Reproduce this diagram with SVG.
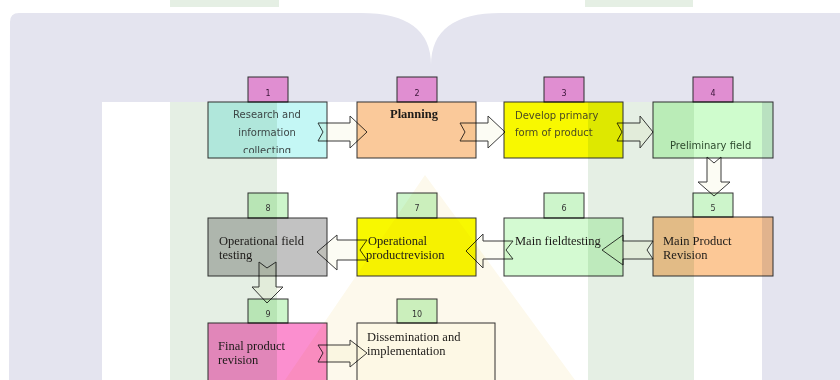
<svg xmlns="http://www.w3.org/2000/svg" width="840" height="380" viewBox="0 0 840 380">
<style>
.mb{mix-blend-mode:multiply}
.box{stroke:#333;stroke-width:1}
.tabp{fill:#fb9fdf;stroke:#333;stroke-width:1}
.tabg{fill:#cdf5cb;stroke:#333;stroke-width:1}
.num{font-family:"DejaVu Sans",sans-serif;font-size:8px;text-anchor:middle}
.sans{font-family:"DejaVu Sans",sans-serif;font-size:10px}
.ser{font-family:"Liberation Serif",serif;font-size:12.5px;fill:#1c1a18}
.arr{fill:#fcfcf4;stroke:#3a3a3a;stroke-width:1}
</style>
<defs>
<clipPath id="c1"><rect x="208" y="102" width="119" height="51"/></clipPath>
</defs>
<rect width="840" height="380" fill="#ffffff"/>
<g id="watermark">
<path d="M10,22 Q10,13 19,13 L361,13 Q431,13 431,65 Q431,13 501,13 L840,13 L840,380 L762,380 L762,102 L102,102 L102,380 L9,380 Z" fill="#e4e4ef"/>
<rect x="170" y="102" width="107" height="278" fill="#e5efe4"/>
<rect x="588" y="102" width="106" height="278" fill="#e5efe4"/>
<rect x="170" y="0" width="109" height="7" fill="#e5efe4"/>
<rect x="585" y="0" width="108" height="7" fill="#e5efe4"/>
<polygon points="425,175 285,380 575,380" fill="#fdf9ec"/>
</g>
<g id="node1">
<rect class="box mb" x="208" y="102" width="119" height="56" fill="#c4f7f5"/>
<rect class="tabp mb" x="248" y="77" width="40" height="25"/>
<text class="num" x="268" y="96" fill="#3a1438">1</text>
<g clip-path="url(#c1)" class="sans" fill="#3c4646" text-anchor="middle">
<text x="267" y="118">Research and</text>
<text x="267" y="136">information</text>
<text x="267" y="154">collecting</text>
</g>
</g>
<g id="node2">
<rect class="box mb" x="357" y="102" width="119" height="56" fill="#fac99a"/>
<rect class="tabp mb" x="397" y="77" width="40" height="25"/>
<text class="num" x="417" y="96" fill="#3a1438">2</text>
<text x="390" y="118" font-family="Liberation Serif, serif" font-weight="bold" font-size="12.5" fill="#1c1a18">Planning</text>
</g>
<g id="node3">
<rect class="box mb" x="504" y="102" width="119" height="56" fill="#f8f800"/>
<rect class="tabp mb" x="544" y="77" width="40" height="25"/>
<text class="num" x="564" y="96" fill="#3a1438">3</text>
<text class="sans" x="515" y="119" fill="#4a4a22">Develop primary</text>
<text class="sans" x="515" y="136" fill="#4a4a22">form of product</text>
</g>
<g id="node4">
<rect class="box mb" x="653" y="102" width="120" height="56" fill="#cffccd"/>
<rect class="tabp mb" x="693" y="77" width="40" height="25"/>
<text class="num" x="713" y="96" fill="#3a1438">4</text>
<text class="sans" x="670" y="149" fill="#2e4a2e">Preliminary field</text>
</g>
<g id="node5">
<rect class="box mb" x="653" y="217" width="120" height="59" fill="#fcc896"/>
<rect class="tabg mb" x="693" y="193" width="40" height="24"/>
<text class="num" x="713" y="211" fill="#333">5</text>
<text class="ser" x="663" y="245">Main Product</text>
<text class="ser" x="663" y="259">Revision</text>
</g>
<g id="node6">
<rect class="box mb" x="504" y="218" width="119" height="58" fill="#d4fad2"/>
<rect class="tabg mb" x="544" y="193" width="40" height="25"/>
<text class="num" x="564" y="211" fill="#333">6</text>
</g>
<g id="node7">
<rect class="box mb" x="357" y="218" width="119" height="58" fill="#f8f800"/>
<rect class="tabg mb" x="397" y="193" width="40" height="25"/>
<text class="num" x="417" y="211" fill="#333">7</text>
</g>
<g id="node8">
<rect class="box mb" x="208" y="218" width="119" height="58" fill="#c2c2c2"/>
<rect class="tabg mb" x="248" y="193" width="40" height="25"/>
<text class="num" x="268" y="211" fill="#333">8</text>
<text class="ser" x="219" y="245">Operational field</text>
<text class="ser" x="219" y="259">testing</text>
</g>
<g id="node9">
<rect class="box mb" x="208" y="323" width="119" height="70" fill="#fb8fcf"/>
<rect class="tabg mb" x="248" y="299" width="40" height="24"/>
<text class="num" x="268" y="317" fill="#333">9</text>
<text class="ser" x="218" y="350">Final product</text>
<text class="ser" x="218" y="364">revision</text>
</g>
<g id="node10">
<rect class="box mb" x="357" y="323" width="138" height="70" fill="#fffef8"/>
<rect class="tabg mb" x="397" y="299" width="40" height="24"/>
<text class="num" x="417" y="317" fill="#333">10</text>
</g>
<g id="connectors">
<path class="arr mb" d="M318,123 L350,123 L350,116 L367,132 L350,148 L350,141 L318,141 L323,132 Z"/>
<path class="arr mb" d="M460,123 L488,123 L488,116 L505,132 L488,148 L488,141 L460,141 L465,132 Z"/>
<path class="arr mb" d="M617,123 L640,123 L640,116 L653,132 L640,148 L640,141 L617,141 L622,132 Z"/>
<path class="arr mb" d="M707,157 L707,182 L698,182 L714,196 L730,182 L721,182 L721,157 L714,163 Z"/>
<path class="arr mb" d="M653,241 L623,241 L623,235 L602,250 L623,265 L623,259 L653,259 L647,250 Z"/>
<path class="arr mb" d="M513,241 L483,241 L483,234 L466,251 L483,268 L483,259 L513,259 L506,250 Z"/>
<path class="arr mb" d="M367,240 L337,240 L337,235 L317,252 L337,270 L337,260 L367,260 L360,250 Z"/>
<path class="arr mb" d="M259,262 L259,287 L252,287 L267,303 L283,287 L276,287 L276,262 L267,268 Z"/>
<path class="arr mb" d="M318,345 L350,345 L350,340 L367,353 L350,367 L350,362 L318,362 L323,353 Z"/>
</g>
<g id="labels-over">
<text class="ser" x="515" y="245">Main fieldtesting</text>
<text class="ser" x="368" y="245">Operational</text>
<text class="ser" x="366" y="259">productrevision</text>
<text class="ser" x="367" y="341">Dissemination and</text>
<text class="ser" x="367" y="355">implementation</text>
</g>
</svg>
